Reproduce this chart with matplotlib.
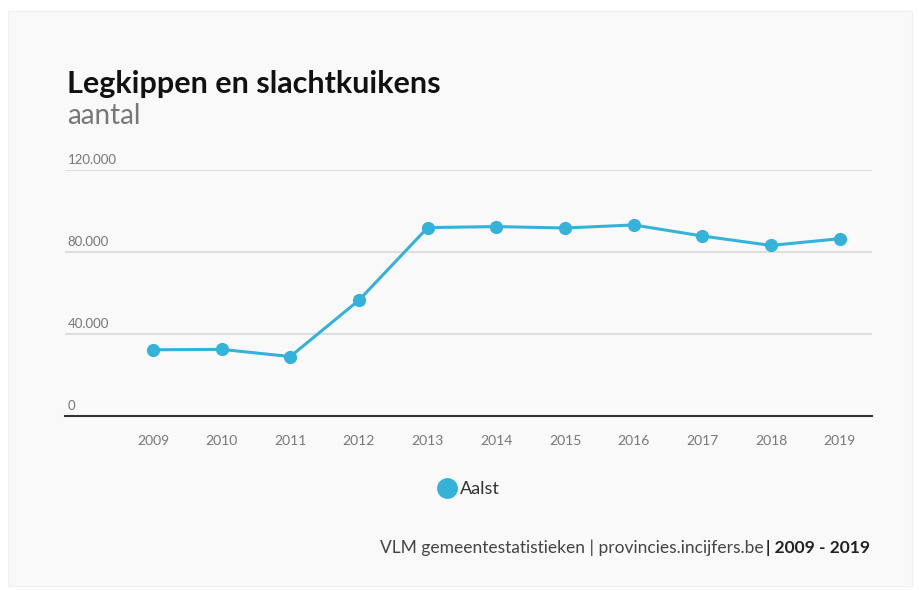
import matplotlib
matplotlib.use('Agg')
import matplotlib.pyplot as plt
from matplotlib.patches import Rectangle

plt.rcParams['font.family'] = ['Lato', 'DejaVu Sans']

# data
years = [2009, 2010, 2011, 2012, 2013, 2014, 2015, 2016, 2017, 2018, 2019]
aalst = [32300, 32500, 29000, 56500, 91900, 92400, 91700, 93200, 87800, 83200, 86500]
y_ticks = [0, 40000, 80000, 120000]

line_color = '#35b2da'
bg = '#f9f9f9'

fig = plt.figure(figsize=(9.19, 5.9), dpi=100, facecolor='white')
fig.patches.append(Rectangle((8 / 919, 1 - 586 / 590), 904 / 919, 575 / 590,
                             transform=fig.transFigure, facecolor=bg,
                             edgecolor='#f0f0f0', linewidth=0.8, zorder=-5))

ax = fig.add_axes([65 / 919, 1 - 416 / 590, 807 / 919, 246 / 590])
ax.set_facecolor('none')

ax.plot(years, aalst, color=line_color, linewidth=2.2, marker='o',
        markersize=8.5, zorder=3, clip_on=False)

ax.set_xlim(2007.72, 2019.47)
ax.set_ylim(0, 120000)
ax.set_xticks(years)
ax.set_xticklabels([str(y) for y in years], fontsize=10, color='#777777')
ax.tick_params(axis='x', length=0, pad=14)

# horizontal gridlines and y labels sitting on top of them
ax.set_yticks([])
for v in y_ticks[1:]:
    ax.axhline(v, color='#d9d9d9', linewidth=1.2, zorder=1)
for v in y_ticks:
    label = f'{v:,}'.replace(',', '.')
    ax.annotate(label, xy=(0, v), xycoords=('axes fraction', 'data'),
                xytext=(2, 3), textcoords='offset points',
                fontsize=9.5, color='#777777', ha='left', va='bottom')

for s in ['top', 'right', 'left']:
    ax.spines[s].set_visible(False)
ax.spines['bottom'].set_color('#333333')
ax.spines['bottom'].set_linewidth(1.5)

# title and subtitle
fig.text(67 / 919, 1 - 84 / 590, 'Legkippen en slachtkuikens', fontsize=22,
         fontweight='bold', color='#111111', ha='left', va='center')
fig.text(67 / 919, 1 - 116 / 590, 'aantal', fontsize=20, color='#777777',
         ha='left', va='center')

# legend
fig.legend(handles=[plt.Line2D([], [], color=line_color, marker='o',
                               linestyle='none', markersize=14)],
           labels=['Aalst'], loc='center', bbox_to_anchor=(468 / 919, 1 - 489 / 590),
           frameon=False, fontsize=13, handletextpad=0.1, handlelength=1.2,
           labelcolor='#333333')

# footer with bold period
fig.canvas.draw()
r = fig.canvas.get_renderer()
t_bold = fig.text(870 / 919, 1 - 548 / 590, '| 2009 - 2019', fontsize=12.5,
                  fontweight='bold', color='#222222', ha='right', va='center')
w = t_bold.get_window_extent(renderer=r).width
fig.text((870 - w - 2) / 919, 1 - 548 / 590,
         'VLM gemeentestatistieken | provincies.incijfers.be', fontsize=12.5,
         color='#444444', ha='right', va='center')

fig.savefig('out.png', dpi=100, facecolor=fig.get_facecolor())
